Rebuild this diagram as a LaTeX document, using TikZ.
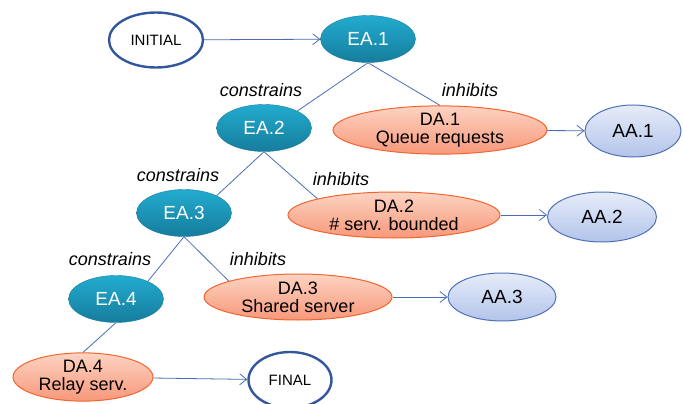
\documentclass[tikz,border=0pt]{standalone}
\usepackage{fontspec}
\setmainfont{Liberation Sans}
\usetikzlibrary{shapes.geometric,arrows.meta}
\definecolor{eatop}{HTML}{22ACD0}
\definecolor{eabot}{HTML}{167C9C}
\definecolor{datop}{HTML}{FDD3C2}
\definecolor{dabot}{HTML}{F7987A}
\definecolor{daline}{HTML}{F2652F}
\definecolor{aatop}{HTML}{E6ECF9}
\definecolor{aabot}{HTML}{B3C4EA}
\definecolor{aaline}{HTML}{4E71B6}
\definecolor{edgeblue}{HTML}{4A6DB5}
\definecolor{termline}{HTML}{33579C}
\tikzset{
  base/.style={ellipse, inner sep=0pt, align=center, font=\fontsize{18}{18}\selectfont},
  ea/.style={base, minimum width=95pt, minimum height=47pt, top color=eatop, bottom color=eabot, draw=eabot, line width=0.4pt, text=white, font=\fontsize{19}{19}\selectfont},
  da/.style={base, minimum height=46pt, top color=datop, bottom color=dabot, draw=daline, line width=1pt},
  aa/.style={base, minimum height=50pt, top color=aatop, bottom color=aabot, draw=aaline, line width=1pt, font=\fontsize{19}{19}\selectfont},
  term/.style={base, fill=white, draw=termline, line width=2.4pt, font=\fontsize{15}{15}\selectfont},
  link/.style={draw=edgeblue, line width=0.8pt},
  flow/.style={link, -{Straight Barb[length=7pt,width=11pt]}},
  lbl/.style={font=\fontsize{18}{18}\selectfont\itshape, inner sep=0pt}
}
\begin{document}
\begin{tikzpicture}[x=1pt,y=-1pt]
\useasboundingbox (0,0) rectangle (683,404);
% nodes
\node[term, minimum width=94pt, minimum height=55pt] (init) at (156,40) {INITIAL};
\node[ea] (ea1) at (368,39) {EA.1};
\node[ea] (ea2) at (264,128) {EA.2};
\node[ea] (ea3) at (184,213) {EA.3};
\node[ea] (ea4) at (116,299) {EA.4};
\node[da, minimum width=214pt] (da1) at (440,130) {DA.1\\Queue requests};
\node[da, minimum width=212pt] (da2) at (394,215) {DA.2\\\# serv. bounded};
\node[da, minimum width=188pt] (da3) at (298,297) {DA.3\\Shared server};
\node[da, minimum width=140pt, minimum height=44pt] (da4) at (83,377) {DA.4\\Relay serv.};
\node[aa, minimum width=96pt, minimum height=52pt] (aa1) at (633,131) {AA.1};
\node[aa, minimum width=109pt] (aa2) at (602,217) {AA.2};
\node[aa, minimum width=108pt, minimum height=48pt] (aa3) at (502,297) {AA.3};
\node[term, minimum width=83pt, minimum height=56pt] (final) at (290,380) {FINAL};
% connectors
\draw[flow] (init) -- (ea1);
\draw[link] (ea1.south) -- (ea2.27);
\draw[link] (ea1.south) -- (da1.north);
\draw[link] (ea2.south) -- (ea3.28);
\draw[link] (ea2.south) -- (da2.168);
\draw[link] (ea3.south) -- (ea4.29);
\draw[link] (ea3.south) -- (da3.167);
\draw[link] (ea4.south) -- (da4.north);
\draw[flow] (da1) -- (aa1);
\draw[flow] (da2.east) -- (aa2.west |- da2.east);
\draw[flow] (da3) -- (aa3);
\draw[flow] (da4) -- (final);
% labels
\node[lbl] (l1) at (261,90) {constrains};
\node[lbl] (l2) at (470,90) {inhibits};
\node[lbl] (l3) at (178,175) {constrains};
\node[lbl] (l4) at (341,179) {inhibits};
\node[lbl] (l5) at (110,259) {constrains};
\node[lbl] (l6) at (258,259) {inhibits};
\end{tikzpicture}
\end{document}
